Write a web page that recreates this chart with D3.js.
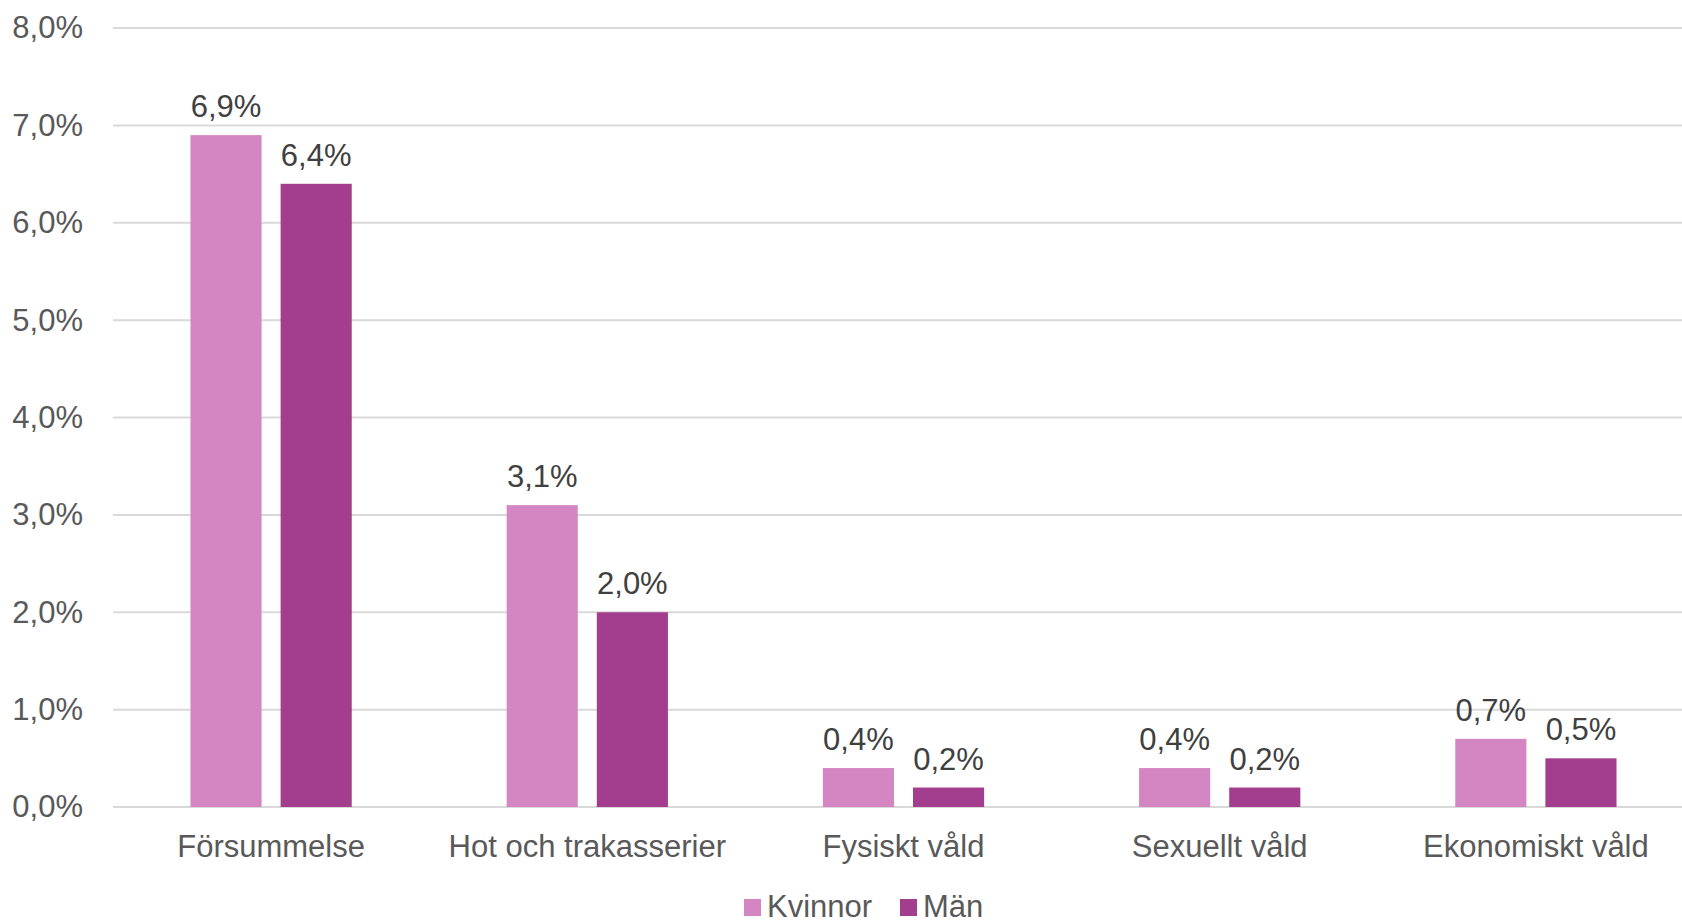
<!DOCTYPE html>
<html>
<head>
<meta charset="utf-8">
<script src="https://cdn.jsdelivr.net/npm/d3@7"></script>
<style>
  body { margin: 0; background: #fff; }
  svg { display: block; font-family: "Liberation Sans", Arial, sans-serif; }
</style>
</head>
<body>
<svg width="1682" height="921"></svg>
<script>
var svg = d3.select('svg');

// data
var categories = ["Försummelse", "Hot och trakasserier", "Fysiskt våld", "Sexuellt våld", "Ekonomiskt våld"];
var seriesNames = ["Kvinnor", "Män"];
var kvinnor = [6.9, 3.1, 0.4, 0.4, 0.7];
var man = [6.4, 2.0, 0.2, 0.2, 0.5];
var yTicks = [0, 1, 2, 3, 4, 5, 6, 7, 8];
var colors = ["#d486c3", "#a33e8e"];

// plot area (top name is taken by window.top)
var plotLeft = 113, plotRight = 1694, plotTop = 28, plotBottom = 807;

var x0 = d3.scaleBand()
    .domain(categories)
    .range([plotLeft, plotRight])
    .paddingInner(0.49)
    .paddingOuter(0.245);

var x1 = d3.scaleBand()
    .domain(seriesNames)
    .range([0, x0.bandwidth()])
    .paddingInner(0.211);

var y = d3.scaleLinear()
    .domain([0, 8])
    .range([plotBottom, plotTop]);

var fmt = function (v) { return v.toFixed(1).replace('.', ',') + '%'; };

// gridlines
svg.append('g')
    .selectAll('line')
    .data(yTicks)
    .enter()
    .append('line')
    .attr('x1', plotLeft)
    .attr('x2', 1682)
    .attr('y1', function (d) { return y(d); })
    .attr('y2', function (d) { return y(d); })
    .attr('stroke', '#d9d9d9')
    .attr('stroke-width', 2);

// y axis labels
var yAxis = d3.axisLeft(y).tickValues(yTicks).tickSize(0).tickPadding(0).tickFormat(fmt);
svg.append('g')
    .attr('transform', 'translate(83,0)')
    .call(yAxis)
    .call(function (g) { g.select('.domain').remove(); })
    .selectAll('text')
    .attr('font-size', 31)
    .attr('font-family', '"Liberation Sans", Arial, sans-serif')
    .attr('fill', '#595959');

// bars
var rows = categories.map(function (c, i) {
    return { cat: c, vals: [{ s: "Kvinnor", v: kvinnor[i] }, { s: "Män", v: man[i] }] };
});

var groups = svg.append('g')
    .selectAll('g')
    .data(rows)
    .enter()
    .append('g')
    .attr('transform', function (d) { return 'translate(' + x0(d.cat) + ',0)'; });

groups.selectAll('rect')
    .data(function (d) { return d.vals; })
    .enter()
    .append('rect')
    .attr('x', function (d) { return x1(d.s); })
    .attr('y', function (d) { return y(d.v); })
    .attr('width', x1.bandwidth())
    .attr('height', function (d) { return y(0) - y(d.v); })
    .attr('fill', function (d, i) { return colors[i]; });

groups.selectAll('text')
    .data(function (d) { return d.vals; })
    .enter()
    .append('text')
    .attr('x', function (d) { return x1(d.s) + x1.bandwidth() / 2; })
    .attr('y', function (d) { return y(d.v) - 18; })
    .attr('text-anchor', 'middle')
    .attr('font-size', 31)
    .attr('fill', '#404040')
    .text(function (d) { return fmt(d.v); });

// x axis labels
var xAxis = d3.axisBottom(x0).tickSize(0).tickPadding(0);
svg.append('g')
    .attr('transform', 'translate(0,' + plotBottom + ')')
    .call(xAxis)
    .call(function (g) { g.select('.domain').remove(); })
    .selectAll('text')
    .attr('dy', null)
    .attr('y', 50)
    .attr('font-size', 31)
    .attr('font-family', '"Liberation Sans", Arial, sans-serif')
    .attr('fill', '#595959');

// legend
var legendX = [744, 900];
var legend = svg.append('g')
    .selectAll('g')
    .data(seriesNames)
    .enter()
    .append('g')
    .attr('transform', function (d, i) { return 'translate(' + legendX[i] + ',899)'; });

legend.append('rect')
    .attr('width', 17)
    .attr('height', 17)
    .attr('fill', function (d, i) { return colors[i]; });

legend.append('text')
    .attr('x', 23)
    .attr('y', 18)
    .attr('font-size', 31)
    .attr('fill', '#595959')
    .text(function (d) { return d; });
</script>
</body>
</html>
